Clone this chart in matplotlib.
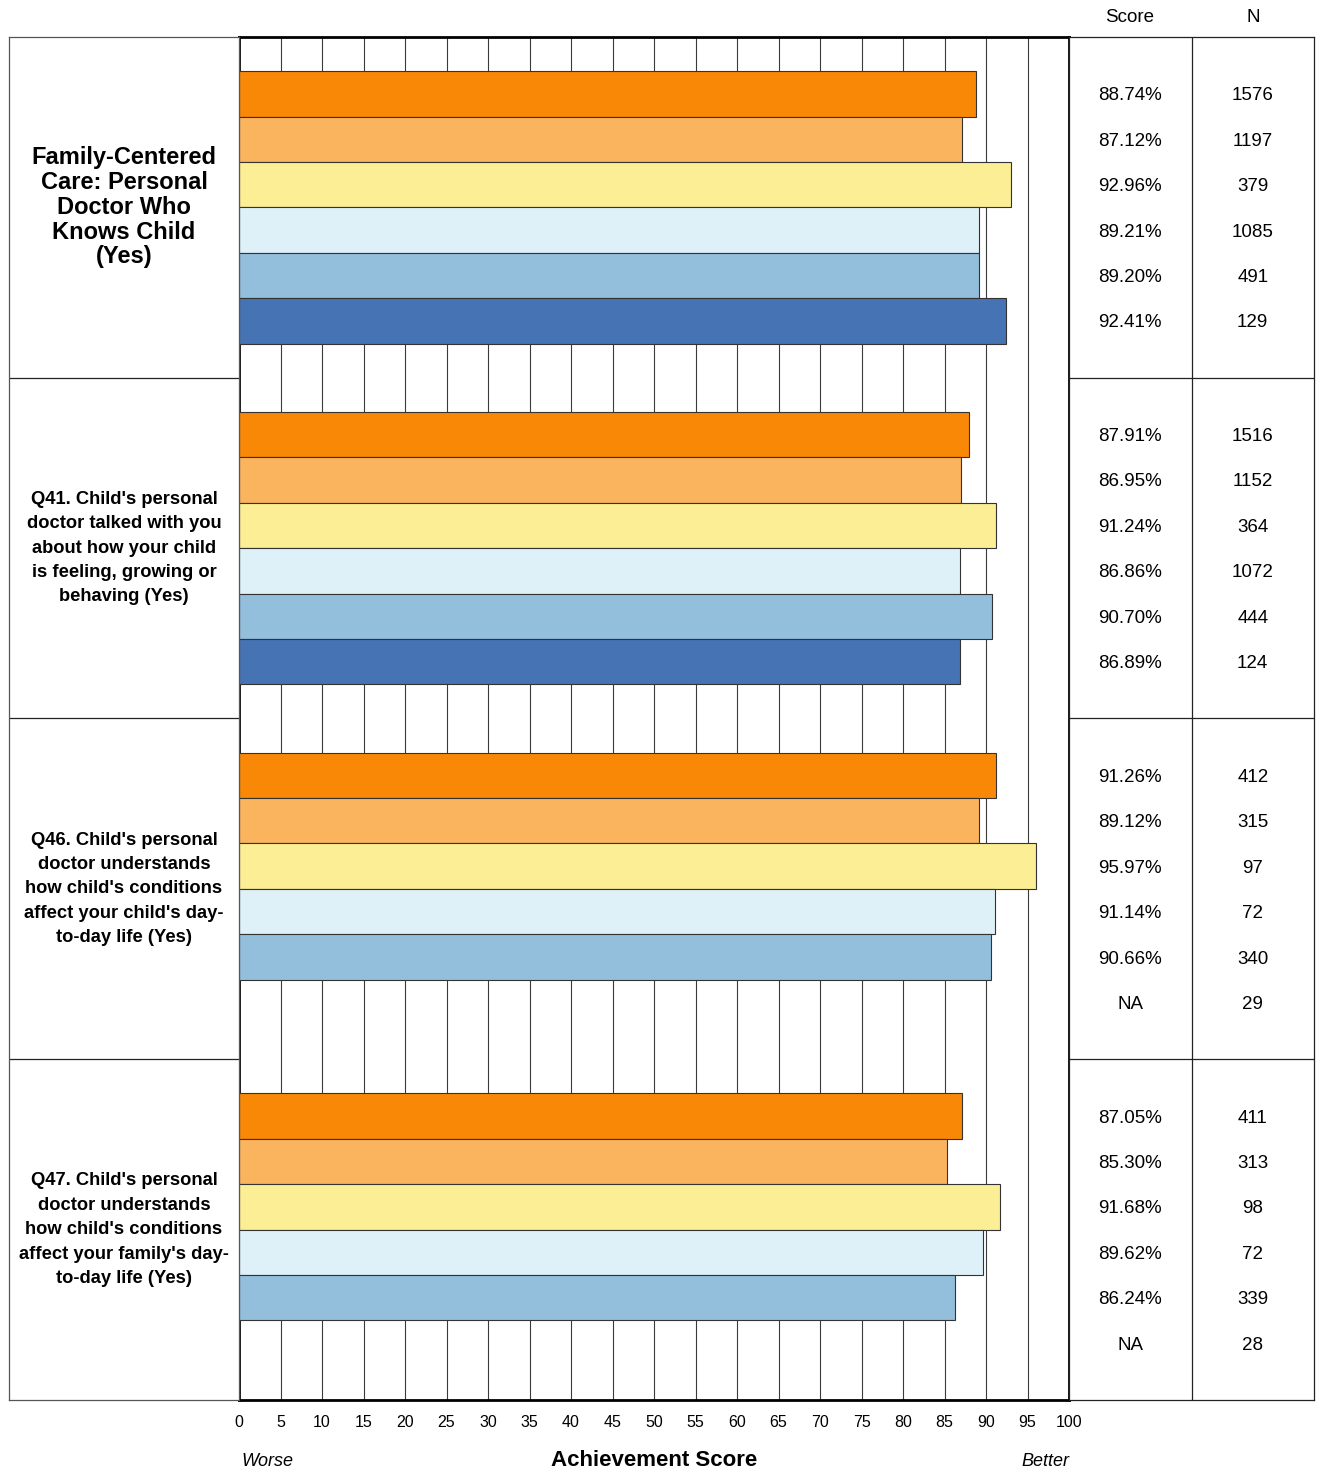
import matplotlib

matplotlib.use("Agg")
import matplotlib.pyplot as plt
import numpy as np

plt.rcParams["font.family"] = ["Liberation Sans", "DejaVu Sans"]

GROUP_LABELS = [
    "Family-Centered\nCare: Personal\nDoctor Who\nKnows Child\n(Yes)",
    "Q41. Child's personal\ndoctor talked with you\nabout how your child\nis feeling, growing or\nbehaving (Yes)",
    "Q46. Child's personal\ndoctor understands\nhow child's conditions\naffect your child's day-\nto-day life (Yes)",
    "Q47. Child's personal\ndoctor understands\nhow child's conditions\naffect your family's day-\nto-day life (Yes)",
]

SCORES_G1 = [88.74, 87.12, 92.96, 89.21, 89.20, 92.41]
SCORES_G2 = [87.91, 86.95, 91.24, 86.86, 90.70, 86.89]
SCORES_G3 = [91.26, 89.12, 95.97, 91.14, 90.66, None]
SCORES_G4 = [87.05, 85.30, 91.68, 89.62, 86.24, None]
SCORES = [SCORES_G1, SCORES_G2, SCORES_G3, SCORES_G4]

N_G1 = [1576, 1197, 379, 1085, 491, 129]
N_G2 = [1516, 1152, 364, 1072, 444, 124]
N_G3 = [412, 315, 97, 72, 340, 29]
N_G4 = [411, 313, 98, 72, 339, 28]
COUNTS = [N_G1, N_G2, N_G3, N_G4]

BAR_COLORS = ["#F98806", "#FAB45D", "#FBEE94", "#DFF1F8", "#93BEDC", "#4573B4"]
X_TICKS = list(range(0, 101, 5))

W, H = 1318, 1470
fig = plt.figure(figsize=(W / 100, H / 100), dpi=100)


def fx(px):
    return px / W


def fy(py):
    return 1 - py / H


top, bottom = 37, 1400
n_groups = len(SCORES)
group_h = 7.5  # in bar units
pad = 0.75
ylim = (n_groups * group_h, 0)

# main plot
ax = fig.add_axes([fx(239), fy(bottom), fx(1069 - 239), (bottom - top) / H])
for g, vals in enumerate(SCORES):
    for i, v in enumerate(vals):
        if v is None:
            continue
        y = g * group_h + pad + i + 0.5
        ax.barh(y, v, height=1.0, color=BAR_COLORS[i], edgecolor="#333333",
                linewidth=0.8, zorder=3)
for xt in X_TICKS[1:-1]:
    ax.axvline(xt, color="#3a3a3a", linewidth=0.8, zorder=1)
ax.set_xlim(0, 100)
ax.set_ylim(*ylim)
ax.set_yticks([])
ax.set_xticks(X_TICKS)
ax.set_xticklabels([str(t) for t in X_TICKS], fontsize=11.5)
ax.tick_params(axis="x", length=0, pad=11)
for sp in ax.spines.values():
    sp.set_linewidth(2.0)
    sp.set_color("black")

# left label column
axl = fig.add_axes([fx(9), fy(bottom), fx(239 - 9), (bottom - top) / H])
axl.set_xlim(0, 1)
axl.set_ylim(*ylim)
axl.set_xticks([])
axl.set_yticks([])
for sp in axl.spines.values():
    sp.set_linewidth(0.9)
    sp.set_color("#555555")
for g, lab in enumerate(GROUP_LABELS):
    yc = g * group_h + group_h / 2
    if g == 0:
        axl.text(0.5, yc, lab, ha="center", va="center", fontsize=17,
                 fontweight="bold", linespacing=1.10)
    else:
        axl.text(0.5, yc, lab, ha="center", va="center", fontsize=13.2,
                 fontweight="bold", linespacing=1.57)
    if g > 0:
        axl.axhline(g * group_h, color="#222222", linewidth=0.9)

# table column
axt = fig.add_axes([fx(1069), fy(bottom), fx(1314 - 1069), (bottom - top) / H])
axt.set_xlim(0, 1)
axt.set_ylim(*ylim)
axt.set_xticks([])
axt.set_yticks([])
for sp in axt.spines.values():
    sp.set_linewidth(0.9)
    sp.set_color("#222222")
axt.axvline(0.5, color="#222222", linewidth=0.9)
for g in range(n_groups):
    if g > 0:
        axt.axhline(g * group_h, color="#222222", linewidth=0.9)
    for i in range(6):
        y = g * group_h + pad + i + 0.5
        v = SCORES[g][i]
        s = "NA" if v is None else f"{v:.2f}%"
        axt.text(0.25, y, s, ha="center", va="center_baseline", fontsize=13.5)
        axt.text(0.75, y, str(COUNTS[g][i]), ha="center",
                 va="center_baseline", fontsize=13.5)

fig.text(fx(1130), fy(18), "Score", ha="center", va="center", fontsize=13.5)
fig.text(fx(1253), fy(18), "N", ha="center", va="center", fontsize=13.5)

fig.text(fx(654), fy(1460), "Achievement Score", ha="center", va="center",
         fontsize=16, fontweight="bold")
fig.text(fx(241), fy(1462), "Worse", ha="left", va="center", fontsize=13,
         style="italic")
fig.text(fx(1069), fy(1462), "Better", ha="right", va="center", fontsize=13,
         style="italic")

fig.savefig("out.png", dpi=100)
